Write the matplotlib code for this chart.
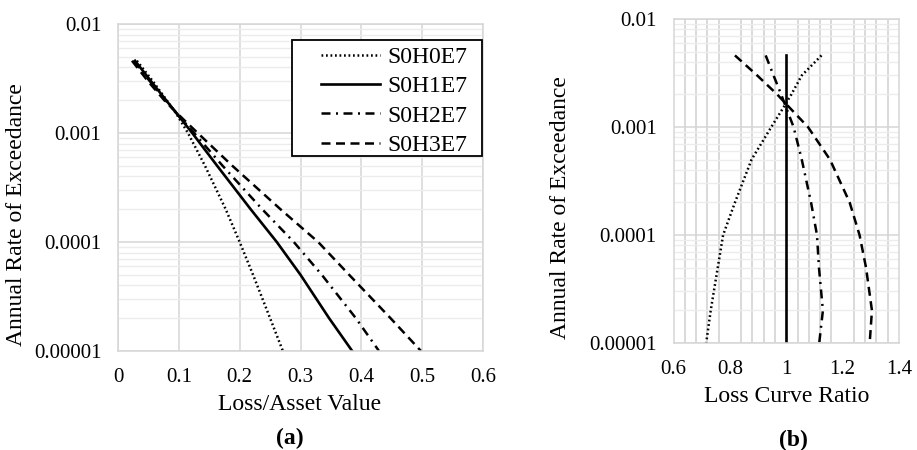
import matplotlib
matplotlib.use('Agg')
import matplotlib.pyplot as plt
from matplotlib.ticker import FixedLocator, FixedFormatter, NullFormatter
from matplotlib.lines import Line2D
from matplotlib.patches import Rectangle

plt.rcParams['font.family'] = ['Liberation Serif', 'DejaVu Serif']

# ---------------- data ----------------
rates = [0.0046, 0.003, 0.002, 0.0015, 0.001, 0.0005, 0.0002, 0.0001, 0.00005, 0.00002, 0.00001]
series_names = ['S0H0E7', 'S0H1E7', 'S0H2E7', 'S0H3E7']

# panel (a): loss / asset value at each rate of exceedance
loss_h0 = [0.031, 0.057, 0.080, 0.096, 0.115, 0.143, 0.177, 0.200, 0.222, 0.250, 0.271]
loss_h1 = [0.028, 0.054, 0.079, 0.097, 0.122, 0.163, 0.218, 0.261, 0.300, 0.347, 0.385]
loss_h2 = [0.026, 0.052, 0.078, 0.097, 0.125, 0.172, 0.237, 0.289, 0.335, 0.391, 0.429]
loss_h3 = [0.023, 0.049, 0.076, 0.098, 0.131, 0.188, 0.267, 0.329, 0.380, 0.448, 0.498]

# panel (b): loss curve ratio (relative to S0H1E7)
ratio_h0 = [1.125, 1.055, 1.018, 0.989, 0.947, 0.877, 0.818, 0.776, 0.757, 0.732, 0.716]
ratio_h1 = [1.0, 1.0, 1.0, 1.0, 1.0, 1.0, 1.0, 1.0, 1.0, 1.0, 1.0]
ratio_h2 = [0.927, 0.955, 0.982, 1.0, 1.026, 1.055, 1.088, 1.109, 1.116, 1.130, 1.117]
ratio_h3 = [0.818, 0.897, 0.968, 1.013, 1.077, 1.155, 1.225, 1.260, 1.283, 1.304, 1.296]

xticks_a = [0, 0.1, 0.2, 0.3, 0.4, 0.5, 0.6]
xtick_labels_a = ['0', '0.1', '0.2', '0.3', '0.4', '0.5', '0.6']
xticks_b = [0.6, 0.8, 1.0, 1.2, 1.4]
xtick_labels_b = ['0.6', '0.8', '1', '1.2', '1.4']
yticks = [0.01, 0.001, 0.0001, 0.00001]
ytick_labels = ['0.01', '0.001', '0.0001', '0.00001']

# ---------------- styles ----------------
LW = 1.6
styles = {
    'S0H0E7': dict(linestyle=(0, (0.7, 1.1)), linewidth=LW + 0.2),
    'S0H1E7': dict(linestyle='-', linewidth=LW + 0.3),
    'S0H2E7': dict(linestyle=(0, (3.6, 2.2, 0.8, 2.2)), linewidth=LW + 0.2),
    'S0H3E7': dict(linestyle=(0, (3.6, 2.2)), linewidth=LW + 0.2),
}

W, H = 917, 450
fig = plt.figure(figsize=(W / 100, H / 100), dpi=100)

def px_axes(l, t, r, b):
    return fig.add_axes([l / W, 1 - b / H, (r - l) / W, (b - t) / H])

def fig_xy(x, y):
    return x / W, 1 - y / H

MAJ = '#d6d6d6'
MIN = '#ececec'
TICK_FS = 15
LABEL_FS = 17

def style_log_axis(ax):
    ax.set_yscale('log')
    ax.set_ylim(0.00001, 0.01)
    ax.yaxis.set_major_locator(FixedLocator(yticks))
    ax.yaxis.set_major_formatter(FixedFormatter(ytick_labels))
    minors = [m * 10.0 ** e for e in range(-5, -2) for m in range(2, 10)]
    ax.yaxis.set_minor_locator(FixedLocator(minors))
    ax.yaxis.set_minor_formatter(NullFormatter())
    ax.grid(True, which='major', axis='y', color=MAJ, linewidth=1.1, zorder=0)
    ax.grid(True, which='minor', axis='y', color=MIN, linewidth=1.0, zorder=0)
    for s in ax.spines.values():
        s.set_color(MAJ)
        s.set_linewidth(1.1)
    ax.tick_params(which='both', length=0, labelsize=TICK_FS)
    ax.set_axisbelow(True)

# ---------------- panel (a) ----------------
axa = px_axes(118, 24, 483, 351)
style_log_axis(axa)
axa.set_xlim(0, 0.6)
axa.xaxis.set_major_locator(FixedLocator(xticks_a))
axa.xaxis.set_major_formatter(FixedFormatter(xtick_labels_a))
axa.grid(True, which='major', axis='x', color=MAJ, linewidth=1.1, zorder=0)
axa.tick_params(axis='y', pad=12)
axa.tick_params(axis='x', pad=12)
for name, vals in zip(series_names, [loss_h0, loss_h1, loss_h2, loss_h3]):
    axa.plot(vals, rates, color='black', label=name, **styles[name])
axa.set_xlabel('Loss/Asset Value', fontsize=LABEL_FS, va='center')
axa.xaxis.set_label_coords(*fig_xy(300, 404), transform=fig.transFigure)
axa.set_ylabel('Annual Rate of Exceedance', fontsize=LABEL_FS, va='center')
axa.yaxis.set_label_coords(*fig_xy(17, 215), transform=fig.transFigure)

# legend with a separate frame
handles = [Line2D([], [], color='black', **styles[n]) for n in series_names]
fig.patches.append(Rectangle(fig_xy(292, 156), 190 / W, 116 / H,
                             transform=fig.transFigure, fill=True, facecolor='white',
                             edgecolor='black', linewidth=1.3, zorder=5))
leg = fig.legend(handles, series_names, loc='upper left',
                 bbox_to_anchor=fig_xy(321, 46.5), bbox_transform=fig.transFigure,
                 frameon=False, fontsize=LABEL_FS, borderpad=0, borderaxespad=0,
                 handlelength=2.5, handletextpad=0.3, labelspacing=0.33)
leg.set_zorder(6)

# ---------------- panel (b) ----------------
axb = px_axes(673.5, 19, 899, 343)
style_log_axis(axb)
axb.set_xlim(0.6, 1.4)
axb.xaxis.set_major_locator(FixedLocator(xticks_b))
axb.xaxis.set_major_formatter(FixedFormatter(xtick_labels_b))
vgrid = [0.6 + 0.04 * i for i in range(21)]
axb.xaxis.set_minor_locator(FixedLocator(vgrid))
axb.grid(True, which='minor', axis='x', color='#cfcfcf', linewidth=1.1, zorder=0)
axb.tick_params(axis='y', pad=12)
axb.tick_params(axis='x', pad=12)
for name, vals in zip(series_names, [ratio_h0, ratio_h1, ratio_h2, ratio_h3]):
    axb.plot(vals, rates, color='black', **styles[name])
axb.set_xlabel('Loss Curve Ratio', fontsize=LABEL_FS, va='center')
axb.xaxis.set_label_coords(*fig_xy(787, 397), transform=fig.transFigure)
axb.set_ylabel('Annual Rate of Exceedance', fontsize=LABEL_FS, va='center')
axb.yaxis.set_label_coords(*fig_xy(560, 208), transform=fig.transFigure)

# panel captions
fig.text(*fig_xy(290, 438), '(a)', ha='center', va='center', fontsize=LABEL_FS, fontweight='bold')
fig.text(*fig_xy(793, 440), '(b)', ha='center', va='center', fontsize=LABEL_FS, fontweight='bold')

fig.savefig('out.png', dpi=100)
